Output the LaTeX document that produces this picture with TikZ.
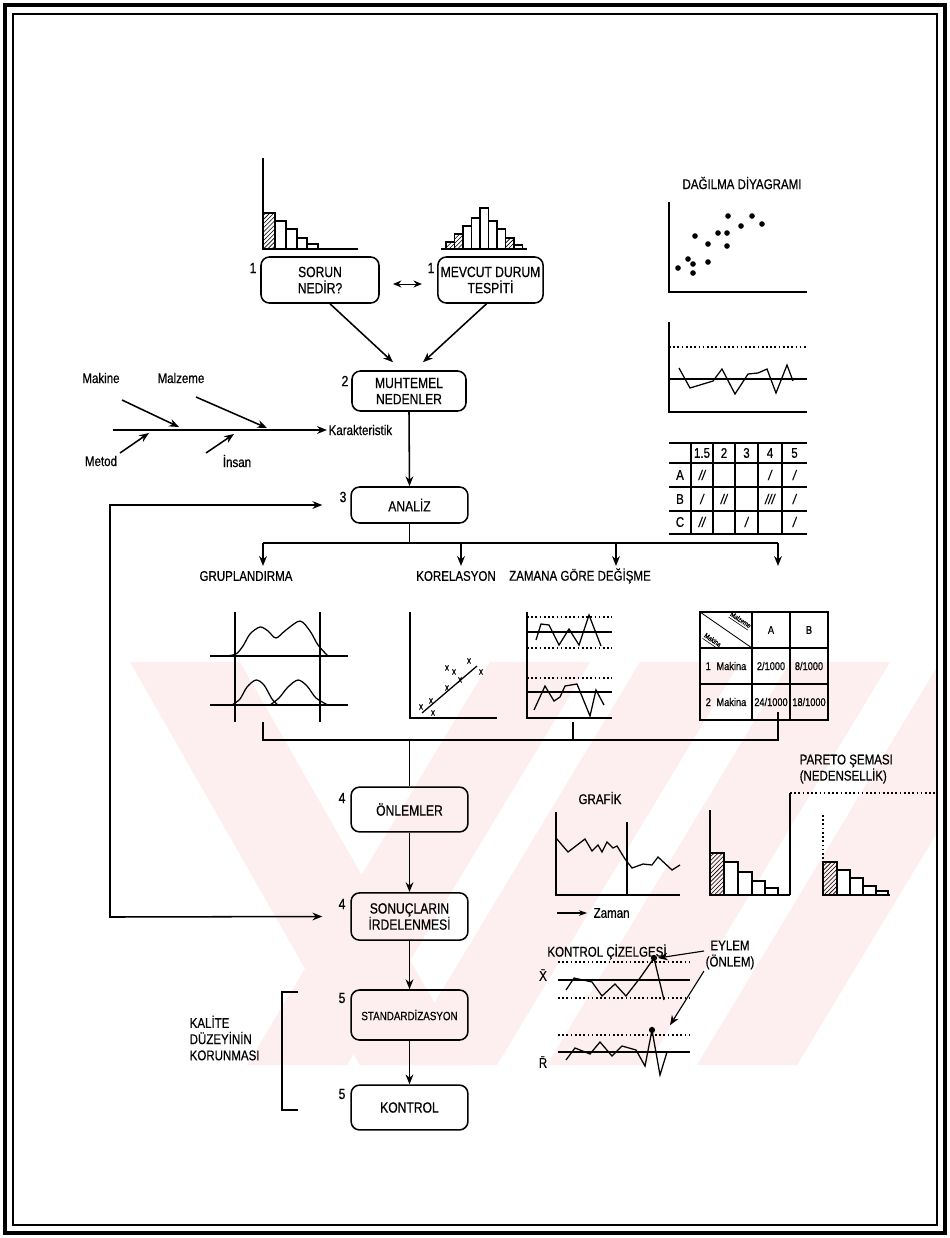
\documentclass[tikz,border=0pt]{standalone}
\usepackage{fontspec}
\setmainfont{Liberation Sans}[FakeStretch=0.82, FakeBold=0.6]
\usepackage{tikz}
\usetikzlibrary{arrows.meta, positioning, patterns, calc}

\definecolor{wmpink}{RGB}{253,238,240}
\newcommand{\boxfont}{\fontsize{10.5}{11.5}\selectfont}
\newcommand{\lblfont}{\fontsize{10}{11.5}\selectfont}
\newcommand{\tabfont}{\fontsize{8}{9}\selectfont}

\tikzset{
  stepbox/.style={draw, line width=1.1pt, rounded corners=6pt, align=center, font=\boxfont, minimum width=2.92cm, inner sep=1pt},
  stepnum/.style={font=\boxfont, inner sep=1pt},
  lbl/.style={font=\lblfont, inner sep=1pt},
  flow/.style={line width=1.1pt, -{Stealth[length=7pt,width=5.5pt]}},
  link/.style={line width=1.1pt},
  chartline/.style={line width=0.9pt},
  limit/.style={line width=0.9pt, dash pattern=on 1.2pt off 1.8pt},
  tally/.style={font=\fontsize{10}{10}\selectfont\itshape, inner sep=0pt},
  hatchbar/.style={draw, line width=0.8pt, pattern=north east lines},
  bar/.style={draw, line width=0.8pt, fill=white},
}

\begin{document}
\begin{tikzpicture}[x=0.025cm, y=-0.025cm]
  \useasboundingbox (0,0) rectangle (949,1238);
  \fill[white] (0,0) rectangle (949,1238);

  % watermark
  \begin{scope}
    \clip (14,662) rectangle (936,1065);
    \fill[wmpink] (130,662) -- (240,662) -- (470,1065) -- (360,1065) -- cycle;
    \foreach \c in {540,690,840,990}
      \fill[wmpink] ({\c-50},662) -- ({\c+50},662) -- ({\c-193},1065) -- ({\c-293},1065) -- cycle;
  \end{scope}

  % frame
  \draw[line width=2.8pt] (5,5) rectangle (945,1233);
  \draw[line width=1.2pt] (13,14) rectangle (937,1225);

  % histograms
  \draw[chartline] (263,158) -- (263,249) -- (358,249);
  \draw[hatchbar] (263,249) rectangle (275,213);
  \foreach \a/\b/\t in {275/286/221, 286/297/229, 297/307/238, 307/318/244}
    \draw[bar] (\a,249) rectangle (\b,\t);
  \draw[chartline] (441,249) -- (527,249);
  \foreach \a/\t/\s in {446/242/hatchbar, 454.5/234/hatchbar, 463/226/bar, 471.5/218/bar, 480/208/bar, 488.5/221/bar, 497/229/bar, 505.5/238/hatchbar, 514/245/bar}
    \draw[\s] (\a,249) rectangle ({\a+8.5},\t);

  % main steps
  \node[stepbox, minimum width=2.95cm, minimum height=1.15cm] (sorun) at (320,280) {SORUN\\NEDİR?};
  \node[stepbox, minimum width=2.63cm, minimum height=1.15cm] (mevcut) at (490.5,280) {MEVCUT DURUM\\TESPİTİ};
  \node[stepbox, minimum width=2.85cm, minimum height=1cm] (muhtemel) at (409,391) {MUHTEMEL\\NEDENLER};
  \node[stepbox, minimum height=0.9cm] (analiz) at (409.5,505) {ANALİZ};
  \node[stepbox, minimum height=1.12cm] (onlem) at (409.5,809.5) {ÖNLEMLER};
  \node[stepbox, minimum height=1.18cm] (sonuc) at (409.5,916.5) {SONUÇLARIN\\İRDELENMESİ};
  \node[stepbox, minimum height=1.25cm, font=\fontsize{8.5}{10}\selectfont] (stand) at (409.5,1015) {STANDARDİZASYON};
  \node[stepbox, minimum height=1.12cm] (kontrol) at (409.5,1107.5) {KONTROL};

  \node[stepnum] (n1a) at (253,268) {1};
  \node[stepnum] (n1b) at (431,268) {1};
  \node[stepnum] (n2) at (345,381) {2};
  \node[stepnum] (n3) at (343,497) {3};
  \node[stepnum] (n4a) at (342,798) {4};
  \node[stepnum] (n4b) at (342,904) {4};
  \node[stepnum] (n5a) at (342,998) {5};
  \node[stepnum] (n5b) at (342,1094) {5};

  \draw[line width=0.7pt, {Stealth[length=6pt,width=5pt]}-{Stealth[length=6pt,width=5pt]}] ([xshift=0.33cm, yshift=-0.1cm]sorun.east) -- ([xshift=-0.38cm, yshift=-0.1cm]mevcut.west);
  \draw[flow] ([xshift=0.25cm]sorun.south) -- ([xshift=-0.4cm, yshift=0.2cm]muhtemel.north);
  \draw[flow] ([xshift=-0.1cm]mevcut.south) -- ([xshift=0.35cm, yshift=0.2cm]muhtemel.north);
  \draw[flow] (muhtemel.south) -- (analiz.north);

  % fishbone
  \coordinate (sp0) at (113,430);
  \node[lbl, anchor=west] (karakt) at (327,430) {Karakteristik};
  \draw[flow] (sp0) -- (karakt.west);
  \node[lbl] (makine) at (101,378) {Makine};
  \node[lbl] (malzeme) at (181,378) {Malzeme};
  \node[lbl] (metod) at (101,461) {Metod};
  \node[lbl] (insan) at (237,461) {İnsan};
  \foreach \nm/\sx/\sy/\ex/\ey in {mak/122/400/179/427, mal/196/397/267/428, met/120/453/149/433, ins/206/453/234/434} {
    \coordinate (\nm s) at (\sx,\sy);
    \coordinate (\nm e) at (\ex,\ey);
    \draw[flow] (\nm s) -- (\nm e);
  }

  % feedback loop
  \coordinate (fbtop) at (110,505);
  \coordinate (fbbot) at (110,917);
  \draw[line width=1.1pt, {Stealth[length=7pt,width=5.5pt]}-{Stealth[length=7pt,width=5.5pt]}] ([xshift=-0.7cm]analiz.west) -- (fbtop) -- (fbbot) -- ([xshift=-0.7cm]sonuc.west);

  % analysis branches
  \coordinate (brc) at (409.5,543);
  \draw[link] (analiz.south) -- (brc);
  \draw[link] (263,543) -- (778,543);
  \foreach \x/\nm in {263/grp, 461/kor, 616/zam, 778/tab} {
    \coordinate (a\nm) at (\x,543);
    \coordinate (b\nm) at (\x,566);
    \draw[flow] (a\nm) -- (b\nm);
  }
  \node[lbl] (lgrp) at (246,576) {GRUPLANDIRMA};
  \node[lbl] (lkor) at (456,576) {KORELASYON};
  \node[lbl] (lzam) at (580,576) {ZAMANA GÖRE DEĞİŞME};

  % grouping
  \draw[chartline] (235,612) -- (235,722);
  \draw[chartline] (320,612) -- (320,722);
  \draw[chartline] (210,656) -- (348,656);
  \draw[chartline] (210,705) -- (348,705);
  \draw[chartline] plot[smooth] coordinates {(226,656) (236,654) (243,646) (250,634) (260,627) (268,631) (276,638) (286,630) (300,621) (310,631) (318,645) (328,656)};
  \draw[chartline] plot[smooth] coordinates {(232,705) (240,699) (247,687) (256,680) (264,685) (272,699) (278,705)};
  \draw[chartline] plot[smooth] coordinates {(270,705) (279,698) (288,687) (298,680) (307,686) (316,698) (328,705)};

  % correlation
  \draw[chartline] (410,612) -- (410,718) -- (497,718);
  \draw[chartline] (422,713) -- (477,666);
  \foreach \p [count=\i] in {(421,707),(431,701),(433,713),(447,668),(454,672),(447,688),(460,680),(469,661),(481,672)}
    \node[inner sep=0pt, font=\fontsize{7}{7}\selectfont] (cx\i) at \p {x};

  % time variation
  \draw[chartline] (527,612) -- (527,718) -- (612,718);
  \draw[limit] (527,617) -- (612,617);
  \draw[chartline] (527,632) -- (612,632);
  \draw[limit] (527,648) -- (612,648);
  \draw[limit] (527,678) -- (612,678);
  \draw[chartline] (527,692) -- (612,692);
  \draw[chartline] plot coordinates {(536,640) (541,624) (549,625) (559,645) (569,629) (579,645) (589,615) (601,646)};
  \draw[chartline] plot coordinates {(534,710) (545,686) (554,701) (560,697) (565,686) (577,684) (590,716) (596,690) (604,705)};

  % machine / material table
  \draw[chartline] (700,612) rectangle (828,720);
  \draw[chartline] (700,648) -- (828,648);
  \draw[chartline] (700,684) -- (828,684);
  \draw[chartline] (752,612) -- (752,720);
  \draw[chartline] (790,612) -- (790,720);
  \draw[line width=0.6pt] (700,612) -- (752,648);
  \node[font=\fontsize{5}{5}\selectfont, rotate=-34, inner sep=0pt] (tmal) at (740,621) {\underline{Malzeme}};
  \node[font=\fontsize{5}{5}\selectfont, rotate=-34, inner sep=0pt] (tmak) at (712,641) {\underline{Makina}};
  \node[font=\tabfont] (tA) at (771,630) {A};
  \node[font=\tabfont] (tB) at (809,630) {B};
  \node[font=\tabfont] (t1) at (726,666) {1\enspace Makina};
  \node[font=\tabfont] (t1a) at (771,666) {2/1000};
  \node[font=\tabfont] (t1b) at (809,666) {8/1000};
  \node[font=\tabfont] (t2) at (726,702) {2\enspace Makina};
  \node[font=\tabfont] (t2a) at (771,702) {24/1000};
  \node[font=\tabfont] (t2b) at (809,702) {18/1000};

  % right column: scatter, run chart, check sheet
  \node[lbl] (ldag) at (742,183) {DAĞILMA DİYAGRAMI};
  \draw[chartline] (669,202) -- (669,292) -- (807,292);
  \foreach \p in {(678,268),(688,259),(693,264),(693,273),(695,236),(708,244),(708,262),(718,233),(727,233),(727,246),(728,216),(741,226),(752,216),(762,224)}
    \fill \p circle (2pt);
  \draw[chartline] (669,322) -- (669,412) -- (807,412);
  \draw[limit] (669,347) -- (807,347);
  \draw[chartline] (669,379) -- (807,379);
  \draw[chartline] plot coordinates {(679,368) (690,388) (713,381) (722,369) (735,394) (748,374) (758,373) (767,369) (776,393) (787,365) (793,381)};
  \foreach \y in {443,463,487,511,534}
    \draw[chartline] (669,\y) -- (807,\y);
  \foreach \x in {691,713,735,758,782}
    \draw[chartline] (\x,443) -- (\x,534);
  \foreach \x/\t [count=\i] in {702/1.5, 724/2, 746.5/3, 770/4, 794.5/5}
    \node[lbl] (hd\i) at (\x,453) {\t};
  \foreach \y/\t [count=\i] in {475/A, 499/B, 522/C}
    \node[lbl] (rw\i) at (680,\y) {\t};
  \foreach \x/\y/\n [count=\i] in {702/475/2, 770/475/1, 794.5/475/1, 702/499/1, 724/499/2, 770/499/3, 794.5/499/1, 702/522/2, 746.5/522/1, 794.5/522/1}
    \node[tally] (tl\i) at (\x,\y) {\ifcase\n\or/\or//\or///\fi};

  % collecting the analyses
  \coordinate (cl) at (263,722);
  \coordinate (cm) at (573,722);
  \coordinate (cr) at (778,712);
  \coordinate (cstem) at (409.5,740);
  \draw[link] (cl) -- (263,740) -- (778,740) -- (cr);
  \draw[link] (cm) -- (573,740);
  \draw[link] (cstem) -- (onlem.north);
  \draw[flow] (onlem.south) -- (sonuc.north);
  \draw[flow] (sonuc.south) -- (stand.north);
  \draw[flow] (stand.south) -- (kontrol.north);

  % quality level bracket
  \node[lbl, align=left, anchor=west] (kalite) at (188,1038) {KALİTE\\DÜZEYİNİN\\KORUNMASI};
  \draw[link] (298,992) -- (282,992) -- (282,1110) -- (298,1110);

  % graph
  \node[lbl] (lgraf) at (600,798) {GRAFİK};
  \draw[chartline] (556,812) -- (556,895) -- (680,895);
  \draw[chartline] (627,822) -- (627,895);
  \draw[chartline] plot coordinates {(556,838) (568,852) (585,839) (592,851) (598,845) (602,852) (607,842) (613,848) (617,846) (625,859) (632,868) (643,864) (652,865) (658,857) (672,870) (680,865)};
  \coordinate (zs) at (557,913);
  \node[lbl, anchor=west] (lzaman) at (592,913) {Zaman};
  \draw[line width=0.8pt, -{Stealth[length=6pt,width=4pt]}] (zs) -- ([xshift=-0.12cm]lzaman.west);

  % pareto
  \node[lbl, align=left, anchor=west] (lpar) at (798,769) {PARETO ŞEMASI\\(NEDENSELLİK)};
  \draw[chartline] (710,810) -- (710,895) -- (790,895);
  \draw[hatchbar] (710,895) rectangle (724,853);
  \foreach \a/\b/\t in {724/738/862, 738/752/872, 752/765/881, 765/778/888}
    \draw[bar] (\a,895) rectangle (\b,\t);
  \draw[chartline] (790,895) -- (790,793);
  \draw[limit] (790,793) -- (937,793);
  \draw[limit] (823,815) -- (823,895);
  \draw[chartline] (823,895) -- (890,895);
  \draw[hatchbar] (823,895) rectangle (837,862);
  \foreach \a/\b/\t in {837/850/870, 850/863/878, 863/876/886, 876/888/891}
    \draw[bar] (\a,895) rectangle (\b,\t);

  % control chart
  \node[lbl] (lkc) at (607,952) {KONTROL ÇİZELGESİ};
  \node[lbl, align=center] (leylem) at (730,955) {EYLEM\\(ÖNLEM)};
  \node[lbl] (lxbar) at (543,975) {\={X}};
  \node[lbl] (lrbar) at (543,1062) {\={R}};
  \draw[limit] (558,962) -- (690,962);
  \draw[chartline] (558,980) -- (690,980);
  \draw[limit] (558,998) -- (690,998);
  \draw[chartline] plot coordinates {(566,990) (574,978) (592,982) (602,996) (615,984) (626,996) (640,978) (654,958) (664,1000)};
  \draw[limit] (558,1035) -- (690,1035);
  \draw[chartline] (558,1052) -- (690,1052);
  \draw[chartline] plot coordinates {(566,1060) (575,1048) (590,1054) (600,1042) (612,1056) (622,1046) (636,1050) (645,1066) (652,1030) (660,1075) (667,1052)};
  \coordinate (dx) at (654,958);
  \coordinate (dr) at (652,1030);
  \fill (dx) circle (2.2pt);
  \fill (dr) circle (2.2pt);
  \draw[flow, line width=0.8pt] ([yshift=0.1cm]leylem.west) -- ([xshift=0.1cm]dx);
  \draw[flow, line width=0.8pt] (leylem.south west) -- ([xshift=0.45cm, yshift=0.12cm]dr);
\end{tikzpicture}
\end{document}
